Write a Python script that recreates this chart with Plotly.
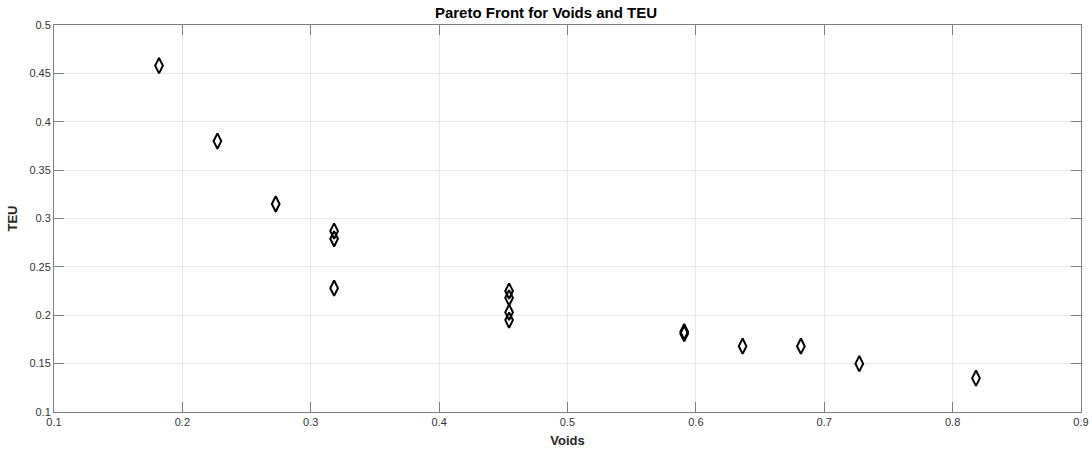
import plotly.graph_objects as go

voids = [0.1818, 0.2273, 0.2727, 0.3182, 0.3182, 0.3182, 0.4545, 0.4545, 0.4545, 0.4545,
         0.5909, 0.5909, 0.6364, 0.6818, 0.7273, 0.8182]
teu = [0.458, 0.380, 0.315, 0.287, 0.279, 0.228, 0.225, 0.218, 0.203, 0.195,
       0.183, 0.181, 0.168, 0.168, 0.150, 0.135]

x_ticks = [0.1, 0.2, 0.3, 0.4, 0.5, 0.6, 0.7, 0.8, 0.9]
x_tick_labels = ["0.1", "0.2", "0.3", "0.4", "0.5", "0.6", "0.7", "0.8", "0.9"]
y_ticks = [0.1, 0.15, 0.2, 0.25, 0.3, 0.35, 0.4, 0.45, 0.5]
y_tick_labels = ["0.1", "0.15", "0.2", "0.25", "0.3", "0.35", "0.4", "0.45", "0.5"]

FONT = "Liberation Sans, Arial, sans-serif"

fig = go.Figure()
fig.add_trace(go.Scatter(
    x=voids, y=teu, mode="markers",
    marker=dict(symbol="diamond-tall-open", size=11, color="black",
                line=dict(color="black", width=2)),
    showlegend=False,
))

axis_common = dict(
    showgrid=True, gridcolor="#e8e8e8", gridwidth=1,
    showline=True, linecolor="#808080", linewidth=1, mirror="ticks",
    ticks="inside", ticklen=10, tickcolor="#808080", tickwidth=1,
    tickfont=dict(family=FONT, size=11, color="#333333"),
    zeroline=False, automargin=False,
)

fig.update_layout(
    width=1092, height=450,
    margin=dict(l=54, r=11, t=25, b=38),
    paper_bgcolor="white", plot_bgcolor="white",
    title=dict(text="<b>Pareto Front for Voids and TEU</b>", x=0.5, xanchor="center",
               y=1 - 13 / 450, yanchor="middle",
               font=dict(family=FONT, size=15, color="black")),
    xaxis=dict(range=[0.1, 0.9], tickvals=x_ticks, ticktext=x_tick_labels,
               title=dict(text="<b>Voids</b>", standoff=8,
                          font=dict(family=FONT, size=13, color="#262626")),
               **axis_common),
    yaxis=dict(range=[0.1, 0.5], tickvals=y_ticks, ticktext=y_tick_labels,
               title=dict(text="<b>TEU</b>", standoff=8,
                          font=dict(family=FONT, size=13, color="#262626")),
               **axis_common),
)

fig.write_html("out.html", config={"displayModeBar": False},
               post_script="document.body.style.margin='0';")
